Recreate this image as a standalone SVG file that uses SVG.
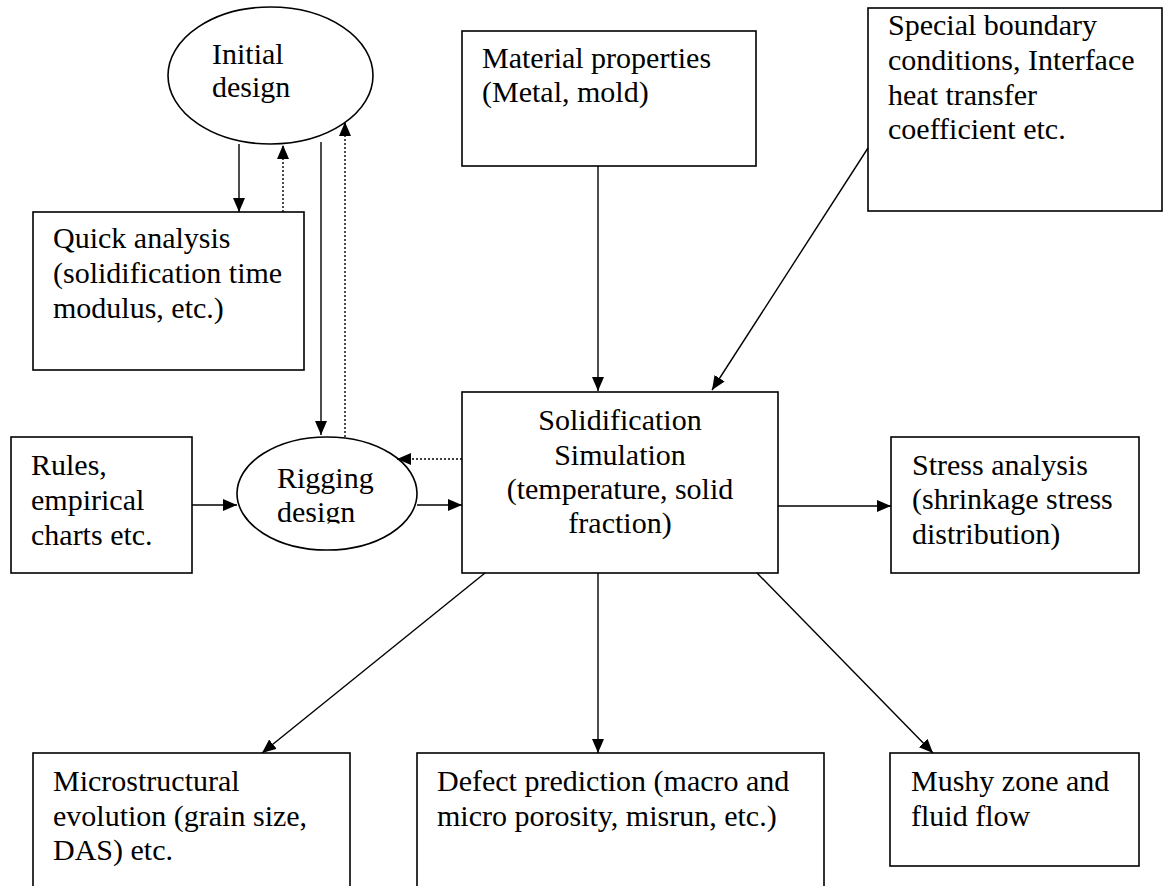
<svg xmlns="http://www.w3.org/2000/svg" width="1164" height="886" viewBox="0 0 1164 886">
<style>
.box{fill:#fff;stroke:#000;stroke-width:1.6}
.ell{fill:#fff;stroke:#000;stroke-width:1.6}
.t{font-family:"Liberation Serif","Times New Roman",serif;font-size:30px;fill:#000}
.c{text-anchor:middle}
.ln{fill:none;stroke:#000;stroke-width:1.4}
.arr{marker-end:url(#ah)}
.dot{stroke-dasharray:2 2}
</style>
<defs>
<marker id="ah" markerUnits="userSpaceOnUse" markerWidth="15" markerHeight="13" refX="14" refY="6" orient="auto">
<path d="M0,0 L14,6 L0,12 z" fill="#000"/>
</marker>
<clipPath id="rigclip"><rect x="230" y="430" width="200" height="93.5"/></clipPath>
</defs>
<rect width="1164" height="886" fill="#fff"/>

<g id="initial-design">
<ellipse class="ell" cx="270.5" cy="75.5" rx="102.5" ry="68.5"/>
<text class="t" x="212" y="64">Initial</text>
<text class="t" x="212" y="97">design</text>
</g>

<g id="quick-analysis">
<rect class="box" x="33" y="212" width="271" height="158"/>
<text class="t" x="53" y="248">Quick analysis</text>
<text class="t" x="53" y="283">(solidification time</text>
<text class="t" x="53" y="318">modulus, etc.)</text>
</g>

<g id="material-properties">
<rect class="box" x="462" y="31" width="294" height="135"/>
<text class="t" x="482" y="68">Material properties</text>
<text class="t" x="482" y="102">(Metal, mold)</text>
</g>

<g id="special-boundary">
<rect class="box" x="868" y="8" width="294" height="203"/>
<text class="t" x="888" y="35">Special boundary</text>
<text class="t" x="888" y="70">conditions, Interface</text>
<text class="t" x="888" y="104.5">heat transfer</text>
<text class="t" x="888" y="139">coefficient etc.</text>
</g>

<g id="rules">
<rect class="box" x="11" y="437" width="181" height="136"/>
<text class="t" x="31" y="475">Rules,</text>
<text class="t" x="31" y="510">empirical</text>
<text class="t" x="31" y="545">charts etc.</text>
</g>

<g id="rigging-design">
<ellipse class="ell" cx="327" cy="493.5" rx="90" ry="56.5"/>
<g clip-path="url(#rigclip)">
<text class="t" x="277" y="488">Rigging</text>
<text class="t" x="277" y="522">design</text>
</g>
</g>

<g id="solidification-simulation">
<rect class="box" x="462" y="392" width="316" height="181"/>
<text class="t c" x="620" y="430">Solidification</text>
<text class="t c" x="620" y="465">Simulation</text>
<text class="t c" x="620" y="499">(temperature, solid</text>
<text class="t c" x="620" y="533">fraction)</text>
</g>

<g id="stress-analysis">
<rect class="box" x="891" y="437" width="248" height="136"/>
<text class="t" x="912" y="475">Stress analysis</text>
<text class="t" x="912" y="509">(shrinkage stress</text>
<text class="t" x="912" y="544">distribution)</text>
</g>

<g id="microstructural-evolution">
<rect class="box" x="33" y="753" width="317" height="160"/>
<text class="t" x="53" y="791">Microstructural</text>
<text class="t" x="53" y="826">evolution (grain size,</text>
<text class="t" x="53" y="860">DAS) etc.</text>
</g>

<g id="defect-prediction">
<rect class="box" x="417" y="753" width="407" height="160"/>
<text class="t" x="437" y="791">Defect prediction (macro and</text>
<text class="t" x="437" y="826">micro porosity, misrun, etc.)</text>
</g>

<g id="mushy-zone">
<rect class="box" x="890" y="753" width="249" height="113"/>
<text class="t" x="911" y="791">Mushy zone and</text>
<text class="t" x="911" y="826">fluid flow</text>
</g>

<g id="connectors">
<line class="ln arr" x1="239" y1="144" x2="239" y2="212"/>
<line class="ln arr dot" x1="283" y1="212" x2="283" y2="145"/>
<line class="ln arr" x1="321" y1="142" x2="321" y2="435"/>
<line class="ln arr dot" x1="345" y1="437" x2="345" y2="122"/>
<line class="ln arr" x1="598" y1="166" x2="598" y2="391"/>
<line class="ln arr" x1="868" y1="148" x2="712" y2="390"/>
<line class="ln arr dot" x1="462" y1="459" x2="397" y2="459"/>
<line class="ln arr" x1="192" y1="505" x2="237" y2="505"/>
<line class="ln arr" x1="417" y1="505" x2="462" y2="505"/>
<line class="ln arr" x1="778" y1="506" x2="891" y2="506"/>
<line class="ln arr" x1="485" y1="573" x2="262" y2="753"/>
<line class="ln arr" x1="598" y1="573" x2="598" y2="753"/>
<line class="ln arr" x1="757" y1="573" x2="933" y2="753"/>
</g>
</svg>
